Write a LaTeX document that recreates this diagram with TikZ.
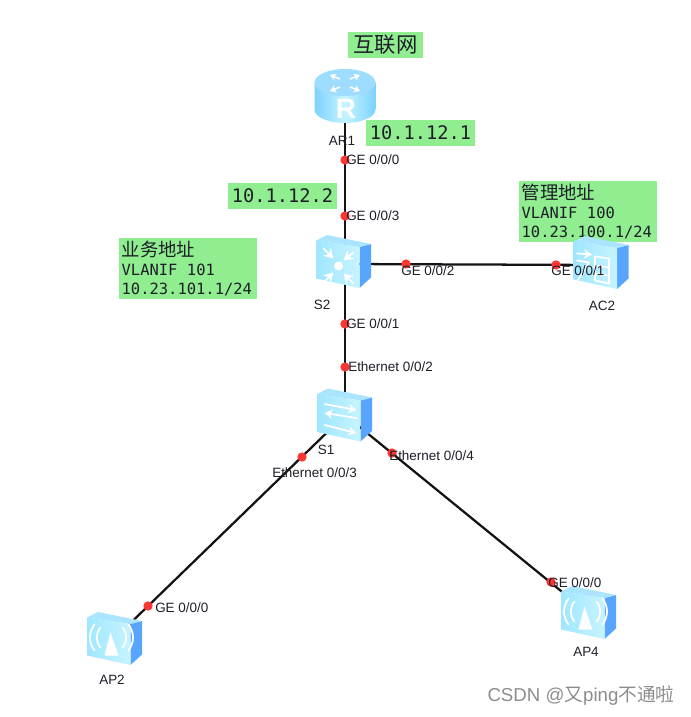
\documentclass[tikz,border=0pt]{standalone}
\usepackage{xcolor}
\usepackage{fontspec}
\setmainfont{Liberation Sans}
\setmonofont{DejaVu Sans Mono}
\newfontfamily\cjk{Noto Sans CJK SC}
\usetikzlibrary{arrows.meta, positioning}
\definecolor{notegreen}{RGB}{144,238,144}
\definecolor{faceblue}{RGB}{160,230,255}
\definecolor{facepale}{RGB}{198,244,255}
\definecolor{sideblue}{RGB}{88,165,255}
\definecolor{topblue}{RGB}{170,228,255}
\definecolor{routerblue}{RGB}{125,210,255}
\definecolor{mydark}{RGB}{30,30,40}
\definecolor{portred}{RGB}{250,55,50}
\tikzset{
  devnode/.style={rectangle, inner sep=0pt, minimum width=41pt, minimum height=40pt},
  link/.style={line width=1.7pt, color=black!92},
  portdot/.style={circle, fill=portred, inner sep=0pt, minimum size=7pt},
  portlabel/.style={anchor=west, inner sep=0pt, font=\fontsize{10.1}{12}\selectfont, text=mydark},
  devlabel/.style={inner sep=0pt, font=\fontsize{10.1}{12}\selectfont, text=mydark},
  ipnote/.style={rectangle, fill=notegreen, inner sep=0pt, minimum width=81.75pt, minimum height=19.5pt,
    font=\ttfamily\fontsize{14}{16}\selectfont, text=mydark},
  addrnote/.style={rectangle, fill=notegreen, inner xsep=2pt, inner ysep=0pt, text width=99.5pt, align=left,
    minimum height=45.75pt, font=\ttfamily\fontsize{11.6}{14.4}\selectfont, text=mydark},
  glyph/.style={draw=white, line width=1.3pt, line cap=round},
  boxbody/.pic={
    \fill[sideblue] (16,-14.5) -- (27.5,-17.5) -- (27.5,16) -- (16,26.5) -- cycle;
    \fill[topblue] (-27.5,-21) -- (-16.5,-26.5) -- (27.5,-17.5) -- (16,-14.5) -- cycle;
    \path[left color=faceblue, right color=facepale] (-27.5,-21) -- (16,-14.5) -- (16,26.5) -- (-27.5,17) -- cycle;
  },
  apicon/.pic={
    \pic {boxbody};
    \fill[white] (-4,-6) -- (-10,17) -- (4,17) -- cycle;
    \foreach \s in {-1,1} {
      \draw[glyph] (-3+\s*11,-11) .. controls (-3+\s*16,-5) and (-3+\s*16,3) .. (-3+\s*11,9);
      \draw[glyph] (-3+\s*17,-14) .. controls (-3+\s*23,-6) and (-3+\s*23,4) .. (-3+\s*17,12);
    }
  },
  coreicon/.pic={
    \pic {boxbody};
    \fill[white] (-5,4.5) circle (4.5);
    \foreach \a/\b/\c/\d in {-20/-13/-10/-3, 10/-9/0/-1, -20/21/-10/11, 10/22/0/12} {
      \draw[glyph, -{Stealth[length=7pt, width=8pt]}] (\a,\b) -- (\c,\d);
    }
  },
  l2icon/.pic={
    \pic {boxbody};
    \draw[glyph, -{Stealth[length=6pt, width=7pt]}] (-20,-11) -- (12,-5);
    \draw[glyph, -{Stealth[length=6pt, width=7pt]}] (12,3) -- (-20,-2);
    \draw[glyph, -{Stealth[length=6pt, width=7pt]}] (-20,10) -- (12,18);
  },
  acicon/.pic={
    \pic {boxbody};
    \draw[glyph, -{Stealth[length=6pt, width=7pt]}] (-24,-9) -- (-9,-8);
    \draw[glyph] (-24,-2) -- (-12,0) -- (-24,19);
    \draw[glyph] (-6,-6) -- (8,-4) -- (8,21) -- (-6,18) -- cycle;
    \draw[glyph] (-6,3) -- (8,5);
    \draw[glyph] (-6,11) -- (8,13);
  },
  routericon/.pic={
    \path[left color=routerblue, right color=routerblue, middle color=facepale]
      (-30.5,-13.5) -- (-30.5,13.5) .. controls (-30.5,21) and (-17,27) .. (0,27)
      .. controls (17,27) and (30.5,21) .. (30.5,13.5) -- (30.5,-13.5) -- cycle;
    \fill[routerblue!75!white] (0,-13.5) ellipse [x radius=30.5, y radius=13.5];
    \foreach \a/\b/\c/\d in {-5/-17/-15/-21, 5/-9/15/-5, 5/-17/15/-21, -5/-9/-15/-5} {
      \draw[draw=white, line width=1.2pt, -{Stealth[length=4.5pt, width=5.5pt]}] (\a,\b) -- (\c,\d);
    }
  }
}

\begin{document}
\begin{tikzpicture}[x=0.75pt, y=-0.75pt]
  \useasboundingbox (0,0) rectangle (691,717);

  % Devices
  \node[devnode] (ar1) at (345,96) {};
  \node[devnode] (s2) at (345,264) {};
  \node[devnode] (ac2) at (601,265) {};
  \node[devnode] (s1) at (345,415) {};
  \node[devnode] (ap2) at (114,639) {};
  \node[devnode] (ap4) at (588,613) {};

  % Notes
  \node[ipnote, minimum width=56.25pt, font=\cjk\fontsize{16}{18}\selectfont] (netnote) at (385.5,45) {互联网};
  \node[ipnote] (ar1ip) at (420.5,133) {10.1.12.1};
  \node[ipnote] (s2ip) at (282.5,196) {10.1.12.2};
  \node[addrnote] (bizaddr) at (188,268.5) {{\cjk\fontsize{13.8}{15}\selectfont 业务地址}\\VLANIF \kern3.2pt 101\\10.23.101.1/24};
  \node[addrnote] (mgmtaddr) at (588,211.5) {{\cjk\fontsize{13.8}{15}\selectfont 管理地址}\\VLANIF \kern3.2pt 100\\10.23.100.1/24};

  % Links
  \draw[link] (ar1.center) -- (s2.center);
  \draw[link] (s2.center) -- (ac2.center);
  \draw[link] (s2.center) -- (s1.center);
  \draw[link] (s1.center) -- (ap2.center);
  \draw[link] (s1.center) -- (ap4.center);

  % Port dots
  \node[portdot] (p1) at (345,160) {};
  \node[portdot] (p2) at (345,216) {};
  \node[portdot] (p3) at (406,264) {};
  \node[portdot] (p4) at (556,265) {};
  \node[portdot] (p5) at (345,324) {};
  \node[portdot] (p6) at (345,367) {};
  \node[portdot] (p7) at (302,457) {};
  \node[portdot] (p8) at (392,453) {};
  \node[portdot] (p9) at (148,606) {};
  \node[portdot] (p10) at (551,582) {};

  % Icons
  \pic at (345,96) {routericon};
  \node[inner sep=0pt, text=white, font=\bfseries\fontsize{21}{24}\selectfont] (routerr) at (346,109) {R};
  \pic at (343.5,261.5) {coreicon};
  \pic at (601,262.5) {acicon};
  \pic at (344.5,415) {l2icon};
  \pic at (114.5,638.5) {apicon};
  \pic at (588.5,612.5) {apicon};

  % Port labels
  \node[portlabel] (l1) at (346,160) {GE 0/0/0};
  \node[portlabel] (l2) at (346,216) {GE 0/0/3};
  \node[portlabel] (l3) at (401,270.5) {GE 0/0/2};
  \node[portlabel] (l4) at (551,270.5) {GE 0/0/1};
  \node[portlabel] (l5) at (346,324) {GE 0/0/1};
  \node[portlabel] (l6) at (348,367) {Ethernet 0/0/2};
  \node[portlabel] (l7) at (272,473) {Ethernet 0/0/3};
  \node[portlabel] (l8) at (389,456) {Ethernet 0/0/4};
  \node[portlabel] (l9) at (155,608) {GE 0/0/0};
  \node[portlabel] (l10) at (548,583) {GE 0/0/0};

  % Device labels
  \node[devlabel] (ar1name) at (342,141) {AR1};
  \node[devlabel] (s2name) at (322,305) {S2};
  \node[devlabel] (ac2name) at (602,306) {AC2};
  \node[devlabel] (s1name) at (326,450) {S1};
  \node[devlabel] (ap2name) at (112,680) {AP2};
  \node[devlabel] (ap4name) at (586,652) {AP4};

  \node[inner sep=0pt, text=black!45, font=\fontsize{14}{16}\selectfont] (mark) at (581,696) {CSDN @{\cjk 又}ping{\cjk 不通啦}};
\end{tikzpicture}
\end{document}
